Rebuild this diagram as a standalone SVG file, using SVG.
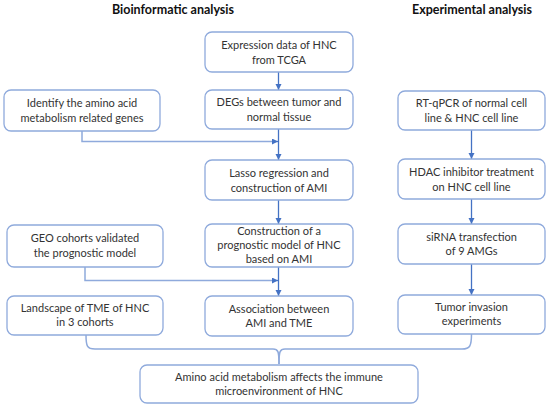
<svg xmlns="http://www.w3.org/2000/svg" width="550" height="408" viewBox="0 0 550 408">
<style>
.box{fill:#fff;stroke:#8faadc;stroke-width:1.3}
.t{font-family:Lato,"Liberation Sans",sans-serif;font-size:11px;fill:#333;text-anchor:middle}
.h{font-family:Lato,"Liberation Sans",sans-serif;font-size:12.5px;font-weight:bold;fill:#111;text-anchor:middle}
.ar{fill:none;stroke:#4472c4;stroke-width:1.3;marker-end:url(#a)}
.ln{fill:none;stroke:#8faadc;stroke-width:1.5}
</style>
<defs>
<marker id="a" markerUnits="userSpaceOnUse" markerWidth="7" markerHeight="7" refX="6" refY="3" orient="auto">
<path d="M0,0 L6,3 L0,6 Z" fill="#4472c4"/>
</marker>
</defs>
<text class="h" x="173" y="14">Bioinformatic analysis</text>
<text class="h" x="472" y="14">Experimental analysis</text>
<g id="connectors">
<path class="ar" d="M278.5,72 V90"/>
<path class="ar" d="M278.5,129 V160"/>
<path class="ln" d="M82,131 V141.5 H272"/>
<path class="ar" d="M272,141.5 H278"/>
<path class="ar" d="M278.5,200 V224"/>
<path class="ln" d="M85,267 V280.5 H272"/>
<path class="ar" d="M272,280.5 H278"/>
<path class="ar" d="M278.5,267 V296"/>
<path class="ar" d="M471.5,130 V159"/>
<path class="ar" d="M471.5,199 V224"/>
<path class="ar" d="M471.5,264 V295"/>
<path class="ln" d="M86,335 C86,346 87,349 95,349 L273,349 C278,349 279,351 279,364"/>
<path class="ln" d="M471.5,334 C471.5,346 470,349 462,349 L285,349 C280,349 279,351 279,364"/>
</g>
<g id="expr"><rect class="box" x="205" y="32" width="148" height="40" rx="7"/><text class="t" x="279" y="48.5">Expression data of HNC</text><text class="t" x="279" y="63.5">from TCGA</text></g>
<g id="degs"><rect class="box" x="205" y="90" width="148" height="39" rx="7"/><text class="t" x="279" y="106">DEGs between tumor and</text><text class="t" x="279" y="121">normal tissue</text></g>
<g id="identify"><rect class="box" x="4" y="90" width="156" height="41" rx="7"/><text class="t" x="82" y="107">Identify the amino acid</text><text class="t" x="82" y="122">metabolism related genes</text></g>
<g id="rtqpcr"><rect class="box" x="398" y="91" width="147" height="39" rx="7"/><text class="t" x="471.5" y="107">RT-qPCR of normal cell</text><text class="t" x="471.5" y="122">line &amp; HNC cell line</text></g>
<g id="lasso"><rect class="box" x="205" y="160" width="148" height="40" rx="7"/><text class="t" x="279" y="176.5">Lasso regression and</text><text class="t" x="279" y="191.5">construction of AMI</text></g>
<g id="hdac"><rect class="box" x="398" y="159" width="147" height="40" rx="7"/><text class="t" x="471.5" y="175.5">HDAC inhibitor treatment</text><text class="t" x="471.5" y="190.5">on HNC cell line</text></g>
<g id="construction"><rect class="box" x="205" y="224" width="148" height="43" rx="7"/><text class="t" x="279" y="234.5">Construction of a</text><text class="t" x="279" y="248.5">prognostic model of HNC</text><text class="t" x="279" y="262.5">based on AMI</text></g>
<g id="geo"><rect class="box" x="7" y="225" width="156" height="42" rx="7"/><text class="t" x="85" y="242">GEO cohorts validated</text><text class="t" x="85" y="257">the prognostic model</text></g>
<g id="sirna"><rect class="box" x="398" y="224" width="147" height="40" rx="7"/><text class="t" x="471.5" y="241">siRNA transfection</text><text class="t" x="471.5" y="255">of 9 AMGs</text></g>
<g id="landscape"><rect class="box" x="7" y="296" width="156" height="39" rx="7"/><text class="t" x="85" y="312">Landscape of TME of HNC</text><text class="t" x="85" y="326">in 3 cohorts</text></g>
<g id="assoc"><rect class="box" x="205" y="296" width="148" height="40" rx="7"/><text class="t" x="279" y="312.5">Association between</text><text class="t" x="279" y="326.5">AMI and TME</text></g>
<g id="tumor"><rect class="box" x="398" y="295" width="147" height="39" rx="7"/><text class="t" x="471.5" y="311">Tumor invasion</text><text class="t" x="471.5" y="325">experiments</text></g>
<g id="final"><rect class="box" x="140" y="365" width="278" height="38" rx="7"/><text class="t" x="279" y="381">Amino acid metabolism affects the immune</text><text class="t" x="279" y="395">microenvironment of HNC</text></g>
</svg>
